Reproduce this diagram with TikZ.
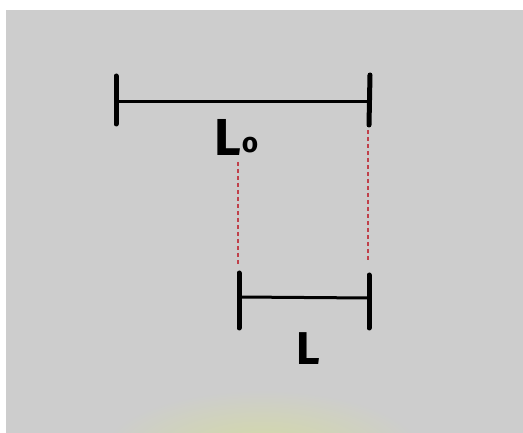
\documentclass[tikz,border=0pt]{standalone}
\usepackage{fontspec}
\setmainfont{Fira Sans}
\definecolor{bg}{HTML}{CDCDCD}
\definecolor{greenish}{HTML}{D4DAA4}
\definecolor{guidered}{HTML}{C0404A}
\begin{document}
\begin{tikzpicture}[x=1pt,y=-1pt,
  bar/.style={line width=3pt,line cap=round},
  tick/.style={line width=5pt,line cap=round},
  guide/.style={draw=guidered,line width=1.6pt,dash pattern=on 4.5pt off 2.5pt},
  lbl/.style={inner sep=0pt,font=\bfseries\fontsize{52}{52}\selectfont}]
\useasboundingbox (0,0) rectangle (523,433);
\fill[white] (0,0) rectangle (523,433);
\fill[bg] (6,10) rectangle (523,433);
\begin{scope}
  \clip (6,10) rectangle (523,433);
  \shade[inner color=greenish,outer color=bg] (262,452) ellipse (160 and 62);
\end{scope}
% top bar (L0)
\coordinate (t1a) at (116,76);
\coordinate (t1b) at (116,124);
\coordinate (t2a) at (370,75);
\coordinate (t2b) at (369,125);
\coordinate (tl) at (116,102);
\coordinate (tr) at (369,102);
\draw[tick] (t1a) -- (t1b);
\draw[tick] (t2a) -- (t2b);
\draw[bar] (tl) -- (tr);
% bottom bar (L)
\coordinate (b1a) at (239,273);
\coordinate (b1b) at (239,328);
\coordinate (b2a) at (369,275);
\coordinate (b2b) at (369,328);
\coordinate (bl) at (239,297);
\coordinate (br) at (369,298);
\draw[tick] (b1a) -- (b1b);
\draw[tick] (b2a) -- (b2b);
\draw[bar] (bl) -- (br);
% dashed guides
\coordinate (g1a) at (238,162);
\coordinate (g1b) at (238,265);
\coordinate (g2a) at (368,130);
\coordinate (g2b) at (368,263);
\draw[guide] (g1a) -- (g1b);
\draw[guide] (g2a) -- (g2b);
% labels
\node[lbl,anchor=base west] (l0) at (214,156) {L\kern1pt\raisebox{3pt}{\fontsize{28}{28}\selectfont o}};
\node[lbl,anchor=base west,font=\bfseries\fontsize{46}{46}\selectfont] (l) at (296,364) {L};
\end{tikzpicture}
\end{document}
